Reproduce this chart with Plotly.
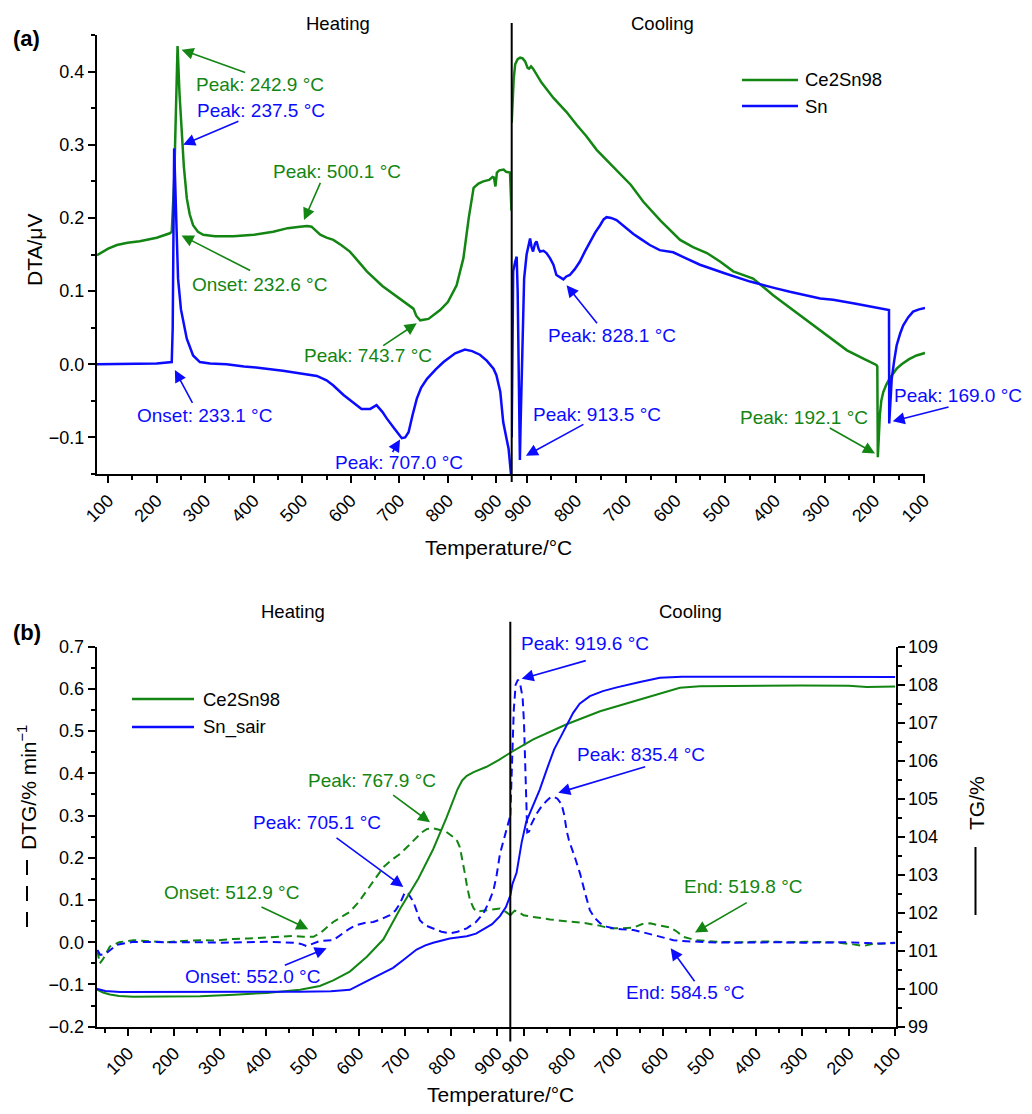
import plotly.graph_objects as go

# The page keeps the browser's default 8px body margin, so the figure is sized to fit inside it.
OFF = 8
W, H = 1032 - 2 * OFF, 1114 - 2 * OFF
GREEN = "#138513"
BLUE = "#0b0bff"
FONT = "Liberation Sans, Arial, Helvetica, sans-serif"

# ---------------- Panel (a): DTA ----------------
ce_dta_heat_T = [77, 100, 118, 140, 165, 200, 227, 231, 236, 240, 243, 247, 251, 256, 262, 268, 275, 285, 296,
                 320, 358, 400, 440, 470, 495, 510, 519, 528, 537, 550, 564, 580, 598, 615, 633, 665, 701, 720,
                 729, 735, 743, 760, 784, 800, 818, 832, 843, 853, 863, 873, 885, 892, 895, 898, 901, 906, 915,
                 920, 928, 931]
ce_dta_heat_v = [0.149, 0.158, 0.163, 0.166, 0.168, 0.173, 0.179, 0.181, 0.25, 0.38, 0.435, 0.37, 0.318, 0.27,
                 0.227, 0.205, 0.19, 0.181, 0.177, 0.175, 0.175, 0.177, 0.181, 0.186, 0.188, 0.189, 0.188, 0.183,
                 0.177, 0.173, 0.170, 0.163, 0.154, 0.141, 0.127, 0.107, 0.090, 0.080, 0.076, 0.066, 0.060, 0.062,
                 0.074, 0.085, 0.108, 0.145, 0.20, 0.241, 0.247, 0.250, 0.252, 0.256, 0.255, 0.243, 0.262, 0.265,
                 0.266, 0.263, 0.262, 0.21]

ce_dta_cool_T = [930, 929, 926, 923, 918, 913, 908, 903, 898, 895, 891, 887, 870, 846, 820, 799, 780, 759, 740,
                 719, 690, 665, 630, 591, 565, 537, 510, 484, 444, 403, 350, 300, 255, 220, 196, 194, 193, 191,
                 189, 186, 182, 176, 168, 155, 145, 130, 115, 100, 98]
ce_dta_cool_v = [0.33, 0.353, 0.39, 0.41, 0.417, 0.419, 0.418, 0.414, 0.405, 0.404, 0.407, 0.404, 0.385, 0.364,
                 0.345, 0.327, 0.312, 0.293, 0.280, 0.266, 0.245, 0.222, 0.196, 0.170, 0.160, 0.152, 0.140, 0.127,
                 0.117, 0.094, 0.067, 0.041, 0.019, 0.007, -0.001, -0.003, -0.127, -0.10, -0.07, -0.05, -0.038,
                 -0.028, -0.018, -0.006, 0.0, 0.007, 0.012, 0.015, 0.016]

sn_dta_heat_T = [77, 150, 200, 231, 233, 236, 240, 244, 250, 262, 275, 289, 310, 344, 380, 413, 460, 495, 530,
                 550, 564, 585, 605, 622, 640, 653, 665, 674, 690, 705, 712, 719, 727, 736, 745, 757, 775, 791,
                 815, 835, 850, 866, 880, 894, 900, 908, 914, 918, 921, 925, 928, 930]
sn_dta_heat_v = [0.0, 0.0, 0.001, 0.003, 0.05, 0.295, 0.2, 0.117, 0.075, 0.035, 0.012, 0.003, 0.001, 0.0, -0.003,
                 -0.005, -0.009, -0.013, -0.016, -0.022, -0.029, -0.042, -0.052, -0.061, -0.061, -0.056, -0.065,
                 -0.074, -0.088, -0.101, -0.100, -0.093, -0.07, -0.047, -0.032, -0.020, -0.007, 0.003, 0.015,
                 0.020, 0.018, 0.013, 0.005, -0.006, -0.015, -0.038, -0.079, -0.09, -0.102, -0.115, -0.143, -0.15]

sn_dta_cool_T = [930, 929, 927, 923, 920, 918, 916, 914.5, 913.5, 912, 909, 905, 900, 895, 893, 890, 887, 883,
                 880, 876, 873, 866, 860, 853, 846, 840, 833, 826, 820, 813, 803, 793, 782, 772, 762, 752, 745,
                 739, 730, 719, 700, 685, 672, 652, 632, 605, 580, 551, 500, 450, 400, 370, 309, 283, 240, 200,
                 172, 170.5, 170, 168, 165, 160, 155, 148, 142, 132, 122, 110, 98]
sn_dta_cool_v = [-0.10, 0.05, 0.127, 0.140, 0.147, 0.10, 0.0, -0.10, -0.131, -0.08, 0.02, 0.117, 0.15, 0.17,
                 0.172, 0.16, 0.154, 0.165, 0.168, 0.158, 0.154, 0.155, 0.152, 0.145, 0.136, 0.122, 0.119, 0.116,
                 0.120, 0.122, 0.13, 0.140, 0.155, 0.168, 0.18, 0.190, 0.198, 0.201, 0.200, 0.197, 0.186, 0.178,
                 0.172, 0.163, 0.156, 0.153, 0.145, 0.136, 0.124, 0.113, 0.104, 0.099, 0.090, 0.088, 0.083,
                 0.078, 0.075, 0.074, -0.081, -0.06, -0.02, 0.005, 0.026, 0.042, 0.053, 0.064, 0.072, 0.075, 0.077]

# ---------------- Panel (b): TG / DTG ----------------
ce_tg_heat_T = [31, 45, 60, 80, 111, 180, 256, 330, 400, 473, 516, 545, 581, 618, 654, 690, 730, 762, 791, 815,
                825, 835, 850, 878, 905, 929.5]
ce_tg_heat_v = [99.98, 99.90, 99.85, 99.81, 99.79, 99.79, 99.80, 99.84, 99.89, 99.97, 100.07, 100.22, 100.45,
                100.84, 101.30, 102.10, 102.90, 103.67, 104.50, 105.25, 105.48, 105.60, 105.70, 105.84, 106.02,
                106.21]
ce_tg_cool_T = [929.5, 880, 808, 736, 650, 600, 564, 521, 450, 305, 200, 161, 100]
ce_tg_cool_v = [106.21, 106.56, 106.96, 107.30, 107.61, 107.80, 107.92, 107.96, 107.97, 107.98, 107.97, 107.94,
                107.95]

sn_tg_heat_T = [31, 50, 82, 256, 473, 540, 560, 581, 618, 645, 675, 700, 726, 745, 762, 798, 835, 855, 871, 890,
                907, 920, 929.5]
sn_tg_heat_v = [100.0, 99.94, 99.91, 99.91, 99.92, 99.93, 99.94, 99.97, 100.20, 100.37, 100.55, 100.78, 101.03,
                101.14, 101.21, 101.32, 101.38, 101.45, 101.56, 101.70, 101.91, 102.15, 102.45]
sn_tg_cool_T = [929.5, 925, 916, 910, 905, 895, 880, 866, 850, 835, 822, 808, 794, 780, 758, 730, 715, 700, 650,
                607, 560, 521, 400, 305, 200, 100]
sn_tg_cool_v = [102.45, 102.75, 103.05, 103.45, 103.85, 104.40, 104.85, 105.24, 105.80, 106.30, 106.60, 106.92,
                107.26, 107.50, 107.70, 107.83, 107.88, 107.93, 108.07, 108.18, 108.21, 108.21, 108.21, 108.21,
                108.21, 108.20]

ce_dtg_heat_T = [33, 38, 45, 60, 80, 111, 150, 183, 220, 256, 290, 328, 360, 400, 430, 458, 480, 502, 516, 530,
                 545, 560, 581, 600, 618, 636, 654, 672, 690, 705, 719, 726, 737, 748, 762, 777, 790, 806, 814,
                 820, 826, 831, 836, 842, 850, 857, 866, 878, 890, 907, 920, 929.5]
ce_dtg_heat_v = [-0.02, -0.05, -0.04, -0.01, 0.0, 0.005, 0.002, 0.0, 0.003, 0.005, 0.004, 0.008, 0.009, 0.011,
                 0.012, 0.015, 0.013, 0.013, 0.021, 0.035, 0.048, 0.058, 0.072, 0.095, 0.123, 0.15, 0.178, 0.195,
                 0.209, 0.225, 0.241, 0.249, 0.26, 0.268, 0.27, 0.266, 0.262, 0.249, 0.24, 0.225, 0.195, 0.162,
                 0.13, 0.10, 0.08, 0.072, 0.074, 0.076, 0.078, 0.080, 0.072, 0.064]
ce_dtg_cool_T = [929.5, 920, 910, 901, 880, 860, 844, 810, 772, 740, 715, 690, 664, 645, 628, 610, 585, 570, 557,
                 540, 528, 485, 430, 377, 330, 290, 233, 190, 169, 150, 120, 100]
ce_dtg_cool_v = [0.064, 0.075, 0.07, 0.064, 0.06, 0.056, 0.054, 0.05, 0.046, 0.04, 0.033, 0.033, 0.035, 0.043,
                 0.045, 0.04, 0.035, 0.025, 0.013, 0.008, 0.005, 0.001, 0.0, 0.002, 0.0, 0.001, 0.0, -0.005,
                 -0.009, -0.004, -0.002, -0.002]

sn_dtg_heat_T = [33, 39, 50, 60, 75, 111, 150, 200, 256, 300, 350, 400, 458, 475, 487, 500, 516, 545, 567, 580,
                 596, 615, 632, 650, 668, 680, 690, 697, 701, 708, 714, 719, 726, 733, 745, 762, 780, 798, 815,
                 835, 855, 871, 883, 893, 900, 907, 915, 922, 929.5]
sn_dtg_heat_v = [-0.018, -0.03, -0.028, -0.02, -0.006, 0.001, 0.0, 0.0, 0.0, -0.001, 0.0, 0.001, -0.001, -0.004,
                 -0.009, -0.004, 0.003, 0.005, 0.021, 0.032, 0.041, 0.046, 0.048, 0.055, 0.064, 0.075, 0.092,
                 0.11, 0.119, 0.115, 0.105, 0.096, 0.075, 0.052, 0.04, 0.033, 0.025, 0.021, 0.025, 0.033, 0.048,
                 0.068, 0.095, 0.123, 0.16, 0.209, 0.24, 0.27, 0.30]
sn_dtg_cool_T = [929.5, 926, 922, 918, 913, 908, 903, 900, 898, 895, 893, 889, 884, 873, 862, 851, 843, 836, 828,
                 819, 813, 808, 803, 790, 779, 768, 758, 748, 736, 722, 708, 690, 664, 645, 628, 600, 578, 560,
                 535, 500, 449, 400, 350, 300, 233, 200, 161, 130, 100]
sn_dtg_cool_v = [0.30, 0.42, 0.55, 0.61, 0.622, 0.61, 0.58, 0.52, 0.437, 0.30, 0.26, 0.262, 0.28, 0.304, 0.322,
                 0.335, 0.343, 0.345, 0.34, 0.327, 0.30, 0.264, 0.241, 0.20, 0.162, 0.115, 0.076, 0.058, 0.045,
                 0.037, 0.033, 0.031, 0.029, 0.024, 0.019, 0.012, 0.005, 0.003, 0.001, 0.0, -0.001, 0.0, 0.0,
                 -0.001, -0.001, 0.0, -0.002, -0.003, -0.001]

# annotation labels: (text, colour, x-axis, text_x, text_y, tail_x, tail_y, head_x, head_y)
# text_x / text_y of None means the text sits outside the axis range and is placed on the page instead
labels_a = [
    ("Peak: 242.9 °C", GREEN, "x", 412.8, 0.382, 385.4, 0.398, 251.3, 0.430),
    ("Peak: 237.5 °C", BLUE, "x", 414.8, 0.347, 371.5, 0.333, 254.6, 0.300),
    ("Peak: 500.1 °C", GREEN, "x", 570.9, 0.264, 538.6, 0.250, 503.5, 0.197),
    ("Onset: 232.6 °C", GREEN, "x", 411.3, 0.109, 395.7, 0.127, 251.3, 0.176),
    ("Peak: 743.7 °C", GREEN, "x", 636.1, 0.0115, 663.7, 0.024, 735.9, 0.056),
    ("Onset: 233.1 °C", BLUE, "x", 299.4, -0.070, 275.3, -0.055, 237.5, -0.008),
    ("Peak: 707.0 °C", BLUE, "x", 699.4, -0.134, 684.3, -0.122, 701.4, -0.103),
    ("Peak: 828.1 °C", BLUE, "x2", 728.8, 0.039, 755.8, 0.054, 819.5, 0.108),
    ("Peak: 913.5 °C", BLUE, "x2", 759.0, -0.069, 782.6, -0.081, 901.4, -0.125),
    ("Peak: 192.1 °C", GREEN, "x2", 341.6, -0.073, 292.7, -0.086, 198.6, -0.122),
    ("Peak: 169.0 °C", BLUE, "x2", None, None, 47.6, -0.058, 163.0, -0.078),
]
labels_b = [
    ("Peak: 919.6 °C", BLUE, "x4", None, None, 763.6, 0.668, 905.0, 0.624),
    ("Peak: 835.4 °C", BLUE, "x4", 648.5, 0.445, 635.6, 0.417, 826.1, 0.354),
    ("Peak: 767.9 °C", GREEN, "x3", 629.9, 0.382, 672.0, 0.351, 755.2, 0.284),
    ("Peak: 705.1 °C", BLUE, "x3", 509.1, 0.284, 548.9, 0.250, 697.2, 0.131),
    ("Onset: 512.9 °C", GREEN, "x3", 324.5, 0.118, 386.0, 0.085, 490.9, 0.031),
    ("Onset: 552.0 °C", BLUE, "x3", 369.3, -0.081, 436.6, -0.056, 530.8, -0.014),
    ("End: 519.8 °C", GREEN, "x4", 427.4, 0.132, 416.6, 0.096, 531.5, 0.023),
    ("End: 584.5 °C", BLUE, "x4", 551.5, -0.119, 530.0, -0.096, 583.8, -0.014),
]
# page positions (pixels) for the two texts outside the axis ranges
outside_text_pos = {"Peak: 169.0 °C": (958.3, 395.0), "Peak: 919.6 °C": (585.0, 643.3)}


def PX(x):
    return (x - OFF) / W


def PY(y):
    return 1 - (y - OFF) / H


fig = go.Figure()


def line(x, y, xa, ya, color, width, dash="solid"):
    fig.add_trace(go.Scatter(x=x, y=y, xaxis=xa, yaxis=ya, mode="lines", showlegend=False,
                             line=dict(color=color, width=width, dash=dash), hoverinfo="skip"))


line(ce_dta_heat_T, ce_dta_heat_v, "x", "y", GREEN, 2.5)
line(ce_dta_cool_T, ce_dta_cool_v, "x2", "y", GREEN, 2.5)
line(sn_dta_heat_T, sn_dta_heat_v, "x", "y", BLUE, 2.5)
line(sn_dta_cool_T, sn_dta_cool_v, "x2", "y", BLUE, 2.5)

DASH = "8px,5px"
line(ce_dtg_heat_T, ce_dtg_heat_v, "x3", "y3", GREEN, 2, DASH)
line(ce_dtg_cool_T, ce_dtg_cool_v, "x4", "y3", GREEN, 2, DASH)
line(sn_dtg_heat_T, sn_dtg_heat_v, "x3", "y3", BLUE, 2, DASH)
line(sn_dtg_cool_T, sn_dtg_cool_v, "x4", "y3", BLUE, 2, DASH)
line(ce_tg_heat_T, ce_tg_heat_v, "x3", "y4", GREEN, 2)
line(ce_tg_cool_T, ce_tg_cool_v, "x4", "y4", GREEN, 2)
line(sn_tg_heat_T, sn_tg_heat_v, "x3", "y4", BLUE, 2)
line(sn_tg_cool_T, sn_tg_cool_v, "x4", "y4", BLUE, 2)

tickfont = dict(family=FONT, size=18, color="black")


def xax(domain, rng, anchor):
    return dict(domain=domain, range=rng, anchor=anchor, showline=True, linewidth=2, linecolor="black",
                ticks="outside", ticklen=7, tickwidth=2, tickcolor="black", tick0=0, dtick=100,
                tickangle=-45, tickfont=tickfont, showgrid=False, zeroline=False, automargin=False,
                minor=dict(ticks="outside", ticklen=4, tickwidth=2, tickcolor="black", dtick=50, showgrid=False))


def yax(domain, rng, anchor, dtick, fmt, side="left", overlaying=None):
    d = dict(domain=domain, range=rng, anchor=anchor, side=side, showline=True, linewidth=2, linecolor="black",
             ticks="outside", ticklen=7, tickwidth=2, tickcolor="black", dtick=dtick, tick0=0,
             tickformat=fmt, tickfont=tickfont, showgrid=False, zeroline=False, automargin=False,
             minor=dict(ticks="outside", ticklen=4, tickwidth=2, tickcolor="black", dtick=dtick / 2,
                        showgrid=False))
    if overlaying:
        d["overlaying"] = overlaying
    return d


xa_div, xb_div = 511.7, 510.3
fig.update_layout(
    width=W, height=H, margin=dict(l=0, r=0, t=0, b=0, pad=0, autoexpand=False),
    plot_bgcolor="white", paper_bgcolor="white",
    xaxis=xax([PX(97), PX(xa_div)], [77, 931.5], "y"),
    xaxis2=xax([PX(xa_div), PX(925)], [930, 98], "y"),
    yaxis=yax([PY(474), PY(35)], [-0.15, 0.45], "x", 0.1, ".1f"),
    xaxis3=xax([PX(96.7), PX(xb_div)], [31.4, 929.5], "y3"),
    xaxis4=xax([PX(xb_div), PX(895.5)], [929.5, 99.3], "y3"),
    yaxis3=yax([PY(1026.7), PY(646.7)], [-0.2, 0.7], "x3", 0.1, ".1f"),
    yaxis4=yax([PY(1026.7), PY(646.7)], [99, 109], "x4", 1, "d", side="right", overlaying="y3"),
)

anns = []
for lst, ya in ((labels_a, "y"), (labels_b, "y3")):
    for text, col, xa, tx, ty, ax, ay, hx, hy in lst:
        if tx is None:
            px, py = outside_text_pos[text]
            anns.append(dict(text=text, x=PX(px), y=PY(py), xref="paper", yref="paper", showarrow=False,
                             font=dict(family=FONT, size=19, color=col), xanchor="center", yanchor="middle"))
        else:
            anns.append(dict(text=text, x=tx, y=ty, xref=xa, yref=ya, showarrow=False,
                             font=dict(family=FONT, size=19, color=col), xanchor="center", yanchor="middle"))
        anns.append(dict(text="", x=hx, y=hy, xref=xa, yref=ya, ax=ax, ay=ay, axref=xa, ayref=ya,
                         showarrow=True, arrowhead=2, arrowsize=1.5, arrowwidth=1.6, arrowcolor=col,
                         standoff=0, startstandoff=0))


def ptext(text, x, y, size=18, angle=0, bold=False, color="black"):
    anns.append(dict(text=("<b>%s</b>" % text) if bold else text, x=PX(x), y=PY(y), xref="paper",
                     yref="paper", showarrow=False, textangle=angle, xanchor="center", yanchor="middle",
                     font=dict(family=FONT, size=size, color=color)))


ptext("(a)", 26, 38, 22, bold=True)
ptext("(b)", 26.5, 632, 22, bold=True)
ptext("Heating", 338, 23.5, 18.5)
ptext("Cooling", 662.5, 23.5, 18.5)
ptext("Heating", 293, 611.5, 18.5)
ptext("Cooling", 690, 611.5, 18.5)
ptext("Temperature/°C", 498, 547, 21)
ptext("Temperature/°C", 500, 1094, 21)
ptext("DTA/μV", 35, 250, 21, angle=-90)
ptext("DTG/% min<sup>−1</sup>", 27, 788, 21, angle=-90)
ptext("TG/%", 976, 803, 21, angle=-90)

# legends
leg_a = [("Ce2Sn98", GREEN, 80), ("Sn", BLUE, 106)]
leg_b = [("Ce2Sn98", GREEN, 699), ("Sn_sair", BLUE, 727)]
shapes = []
for items, x0, x1, xt in ((leg_a, 742, 798, 803), (leg_b, 132, 194, 201)):
    for name, col, yy in items:
        shapes.append(dict(type="line", xref="paper", yref="paper", x0=PX(x0), x1=PX(x1), y0=PY(yy), y1=PY(yy),
                           line=dict(color=col, width=2.5)))
        anns.append(dict(text=name, x=PX(xt), y=PY(yy), xref="paper", yref="paper", showarrow=False,
                         xanchor="left", yanchor="middle", font=dict(family=FONT, size=18.5, color="black")))

# heating/cooling dividers
shapes.append(dict(type="line", xref="paper", yref="paper", x0=PX(xa_div), x1=PX(xa_div), y0=PY(23), y1=PY(482),
                   line=dict(color="black", width=2)))
shapes.append(dict(type="line", xref="paper", yref="paper", x0=PX(xb_div), x1=PX(xb_div), y0=PY(621.7),
                   y1=PY(1041.5), line=dict(color="black", width=2)))
# axis-title line-style keys
shapes.append(dict(type="line", xref="paper", yref="paper", x0=PX(27), x1=PX(27), y0=PY(860), y1=PY(927),
                   line=dict(color="black", width=2, dash="15px,11px")))
shapes.append(dict(type="line", xref="paper", yref="paper", x0=PX(975.5), x1=PX(975.5), y0=PY(847), y1=PY(915),
                   line=dict(color="black", width=2)))

fig.update_layout(annotations=anns, shapes=shapes)

fig.write_html("out.html", config={"displayModeBar": False})
